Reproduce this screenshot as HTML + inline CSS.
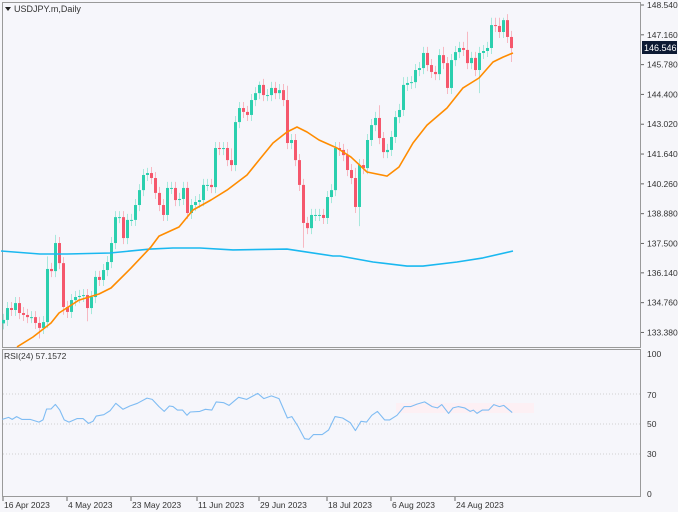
<!DOCTYPE html>
<html><head><meta charset="utf-8">
<style>
html,body{margin:0;padding:0;background:#f6f6fa;}
svg{display:block;font-family:"Liberation Sans","DejaVu Sans",sans-serif;}
</style></head>
<body>
<svg id="chart" width="678" height="512" viewBox="0 0 678 512" xmlns="http://www.w3.org/2000/svg">
  <rect x="0" y="0" width="678" height="512" fill="#f6f6fa"/>
  <rect x="2.5" y="2.5" width="638" height="345" fill="#f6f6fb" stroke="#9a9a9a"/>
  <rect x="2.5" y="349.5" width="638" height="147" fill="#f6f6fb" stroke="#9a9a9a"/>
  <rect x="396" y="403" width="138" height="10" fill="#fdf0f4"/>
  <g id="rsiGrid"></g>
  <g id="candles"></g>
  <g id="lines"></g>
  <g id="yaxis"></g>
  <g id="raxis"></g>
  <g id="xaxis"></g>
  <polygon points="5,7 11,7 8,11" fill="#222"/>
  <text x="14" y="12" font-size="9" fill="#333">USDJPY.m,Daily</text>
  <text x="4" y="359" font-size="8.5" fill="#333">RSI(24) 57.1572</text>
  <rect x="642" y="41" width="35" height="13" fill="#0d1a33"/>
  <text x="644" y="51" font-size="9" fill="#fff">146.546</text>
</svg>
<script>
const closes=[133.96,134.51,134.42,134.74,134.28,134.19,134.09,134.09,133.82,133.59,133.86,136.32,136.22,137.52,136.59,134.56,134.33,134.88,135.02,135.07,135.11,134.51,135.02,135.95,135.81,136.27,136.64,137.52,138.72,138.72,137.75,138.59,138.59,139.28,139.97,140.67,140.76,140.53,139.84,139.28,138.82,140.07,140.07,139.51,139.56,140.07,138.91,139.28,139.42,139.51,140.21,140.21,140.11,141.92,141.87,141.92,141.36,141.13,143.12,143.77,143.59,143.45,144.14,144.46,144.84,144.37,144.37,144.70,144.46,144.60,144.14,142.15,142.29,141.36,140.21,138.45,138.21,138.82,138.82,138.82,138.68,139.65,139.97,141.92,141.83,141.59,140.90,140.53,139.19,141.13,140.99,142.29,142.98,143.31,142.38,141.73,141.83,142.43,143.35,143.68,144.84,144.93,144.97,145.53,145.62,146.32,145.76,145.44,145.34,146.22,145.85,144.70,145.99,146.36,146.55,146.46,145.85,146.09,145.53,146.32,146.41,146.55,147.61,147.57,147.29,147.84,147.06,146.546];
const firstOpen=133.80;
const wickPad=0.28;
const bigHighs={11:136.9,13:137.9,14:137.8,27:137.8,36:141.0,57:141.9,64:145.0,71:144.8,88:141.0,94:143.9,100:145.2,105:146.6,110:146.6,116:147.3,122:147.95,123:147.95,124:147.95,125:147.95};
const bigLows={9:133.1,15:134.2,21:133.9,75:137.3,89:138.3,119:144.46,127:145.9};
const ma20Idx=[3.5,7.5,12,14,19,24,27,32,37,39,44,47.5,52,56,61,64,67.5,71,73.5,76,79,83.5,87,91,96,99,102.5,106,111,115,119,122.5,125,127.5];
const ma20=[132.71,133.17,133.82,134.28,134.88,135.16,135.44,136.36,137.34,137.84,138.26,139.05,139.51,139.97,140.67,141.36,142.15,142.66,142.89,142.66,142.29,141.92,141.50,140.81,140.62,141.04,142.15,142.98,143.77,144.70,145.16,145.90,146.13,146.32];
const ma200Idx=[-0.5,9.25,16,26.75,36.75,42.5,49.25,57.5,71,82.5,84.25,92.5,101,105,113.5,120,127.5];
const ma200=[137.15,137.01,137.01,137.06,137.24,137.29,137.29,137.20,137.24,136.92,136.92,136.64,136.45,136.45,136.64,136.83,137.15];
const rsiIdx=[-0.2,1.4,2.3,3.4,4.7,6.8,9,10,10.9,12,13.1,14.2,15.3,16.5,18.5,20,21.4,22.5,23.3,25.2,26.8,28.2,30,31.7,33.6,36,37.3,39,40.3,41.6,42.5,43.6,44.9,46,46.8,49.2,50.6,52.2,53.3,55.2,56.5,58.9,60.9,63.7,65.2,67.1,69,71.1,72.2,73.8,75.4,76.5,77.6,79.8,81.4,83,84.9,86.8,88.1,89.5,90.9,92.2,93.6,95.4,96.7,98.5,100.3,101.9,103.5,105.4,107.3,108.6,109.7,111.4,112.5,113.8,115.4,116.8,117.6,118.5,119.8,121.4,122.7,124.1,125.2,127.3];
const rsi=[53.1,54.4,53.1,54.9,53.1,53.1,51.3,52.7,60,60,63.1,59.3,52.7,51.3,53.6,53.6,50.4,51.8,55.3,56.2,58.9,63.8,59.8,62,63.8,67.3,66.4,61.6,58.4,62,61.6,59.3,59.3,55.8,58,58.4,59.8,59.3,64.7,64.2,62.4,67.8,66.4,70.4,66.9,68.7,66.9,54,54.9,48.2,40.2,39.8,42.9,42.9,46,54.9,54,50.9,45.6,51.8,51.3,55.8,58.4,52.7,52.7,55.8,61.6,61.6,63.3,64.7,61.6,60.7,62.9,57.1,60.7,61.6,60.7,58.4,59.3,57.1,59.3,59.3,62.9,61.6,62.4,57.6];
const priceTicks=[148.540,147.160,145.780,144.400,143.020,141.640,140.260,138.880,137.500,136.140,134.760,133.380];
const rsiTicks=[100,70,50,30,0];
const rsiLevels=[70,50,30];
const dateIdx=[0,16,32,48.5,64,81,97,113];
const dateLabels=["16 Apr 2023","4 May 2023","23 May 2023","11 Jun 2023","29 Jun 2023","18 Jul 2023","6 Aug 2023","24 Aug 2023"];

const NS="http://www.w3.org/2000/svg";
const xI=i=>3+4*i;
const yP=p=>5+(148.54-p)*21.6;
const yR=r=>499-1.5*r;
function mk(tag,attrs,parent){const e=document.createElementNS(NS,tag);for(const k in attrs)e.setAttribute(k,attrs[k]);parent.appendChild(e);return e;}
const gC=document.getElementById('candles'),gL=document.getElementById('lines'),gY=document.getElementById('yaxis'),gR=document.getElementById('raxis'),gX=document.getElementById('xaxis'),gG=document.getElementById('rsiGrid');

closes.forEach((c,i)=>{
  const o=i===0?firstOpen:closes[i-1];
  const up=c>=o;
  const hi=bigHighs[i]!==undefined?bigHighs[i]:Math.max(o,c)+wickPad;
  const lo=bigLows[i]!==undefined?bigLows[i]:Math.min(o,c)-wickPad;
  const x=xI(i);
  const col=up?"#2bcfae":"#f5576c";
  const wcol=up?"#a8e8dc":"#f7b8c2";
  const w=mk('line',{x1:x+0.5,x2:x+0.5,y1:yP(hi),y2:yP(lo),stroke:wcol,'stroke-width':1},gC);
  
  
  const top=yP(Math.max(o,c)),bot=yP(Math.min(o,c));
  const b=mk('rect',{x:x-1,y:top,width:3,height:Math.max(1,bot-top),fill:col},gC);
  
  
});

function poly(idx,vals,yf,color,width,name){
  const d=idx.map((ix,k)=>(k?'L':'M')+xI(ix).toFixed(1)+','+yf(vals[k]).toFixed(1)).join(' ');
  const p=mk('path',{d:d,fill:'none',stroke:color,'stroke-width':width,'stroke-linejoin':'round'},gL);
  
  
}
poly(ma200Idx,ma200,yP,"#1ab8f0",1.6,'ma200-line');
poly(ma20Idx,ma20,yP,"#ff8c00",1.6,'ma20-line');

rsiLevels.forEach(v=>{
  const l=mk('line',{x1:3,x2:640,y1:yR(v),y2:yR(v),stroke:"#d0d0d0",'stroke-dasharray':'1,2'},gG);
  
  
});
poly(rsiIdx,rsi,yR,"#7fbcf3",1.1,'rsi-line');

priceTicks.forEach(v=>{
  const y=yP(v);
  const t=mk('line',{x1:641,x2:644,y1:y,y2:y,stroke:"#666"},gY);
  
  
  const tx=mk('text',{x:647,y:y+3,'font-size':8.5,fill:"#333"},gY);
  tx.textContent=v.toFixed(3);
  
  
});
const rsiLabelY={100:357,70:398,50:427,30:457,0:497};
rsiTicks.forEach(v=>{
  const tx=mk('text',{x:647,y:rsiLabelY[v],'font-size':8.5,fill:"#333"},gR);
  tx.textContent=String(v);
  
  
});
dateIdx.forEach((ix,k)=>{
  const x=xI(ix);
  const t=mk('line',{x1:x,x2:x,y1:497,y2:501,stroke:"#666"},gX);
  
  
  const tx=mk('text',{x:x+1,y:508,'font-size':8.5,fill:"#333"},gX);
  tx.textContent=dateLabels[k];
  
  
});
</script>
</body></html>
